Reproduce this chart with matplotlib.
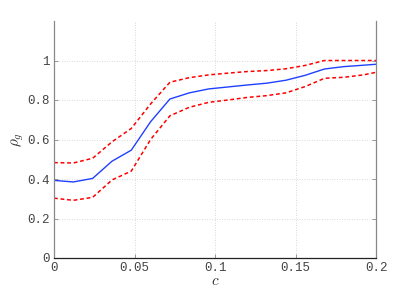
import numpy as np
import matplotlib
matplotlib.use("Agg")
import matplotlib.pyplot as plt

plt.rcParams["mathtext.fontset"] = "cm"

c = [0, 0.012, 0.024, 0.036, 0.048, 0.06, 0.072, 0.084, 0.096, 0.108,
     0.12, 0.132, 0.144, 0.156, 0.168, 0.18, 0.192, 0.2]
rho_mean = [0.393, 0.385, 0.403, 0.49, 0.546, 0.69, 0.805, 0.836, 0.856, 0.866,
            0.876, 0.885, 0.900, 0.925, 0.957, 0.969, 0.976, 0.981]
rho_upper = [0.483, 0.481, 0.505, 0.588, 0.656, 0.78, 0.89, 0.913, 0.927, 0.936,
             0.944, 0.949, 0.958, 0.975, 1.0, 1.0, 1.0, 1.0]
rho_lower = [0.303, 0.292, 0.307, 0.395, 0.44, 0.6, 0.72, 0.763, 0.788, 0.80,
             0.813, 0.822, 0.836, 0.868, 0.91, 0.915, 0.927, 0.94]

xticks = [0, 0.05, 0.1, 0.15, 0.2]
xticklabels = ["0", "0.05", "0.1", "0.15", "0.2"]
yticks = [0, 0.2, 0.4, 0.6, 0.8, 1.0]
yticklabels = ["0", "0.2", "0.4", "0.6", "0.8", "1"]

fig = plt.figure(figsize=(4.15, 2.91), dpi=100)
ax = fig.add_axes([54/415, 1-258/291, (376-54)/415, (258-21)/291])

ax.plot(c, rho_mean, color="#2040ff", lw=1.0)
ax.plot(c, rho_upper, color="red", lw=1.1, ls=(0, (2.5, 1.8)))
ax.plot(c, rho_lower, color="red", lw=1.1, ls=(0, (2.5, 1.8)))

ax.set_xlim(0, 0.2)
ax.set_ylim(0, 1.2)
ax.set_xticks(xticks)
ax.set_xticklabels(xticklabels, family="Liberation Mono", fontsize=9, color="#444444")
ax.set_yticks(yticks)
ax.set_yticklabels(yticklabels, family="Liberation Mono", fontsize=9, color="#444444")
ax.tick_params(direction="in", length=3, width=0.6, color="#888888")
ax.tick_params(axis="x", pad=3)
ax.tick_params(axis="y", pad=3)
ax.tick_params(right=True)
ax.grid(True, ls=(0, (1, 2)), color="#cccccc", lw=0.6)

ax.spines["top"].set_visible(False)
ax.spines["left"].set_color("#888888")
ax.spines["right"].set_color("#888888")
ax.spines["bottom"].set_color("#222222")
for s in ax.spines.values():
    s.set_linewidth(0.9)

ax.set_xlabel(r"$c$", fontsize=11, labelpad=-1, color="#333333")
ax.set_ylabel(r"$\rho_g$", fontsize=11, labelpad=1, color="#333333")

fig.savefig("out.png", dpi=100)
